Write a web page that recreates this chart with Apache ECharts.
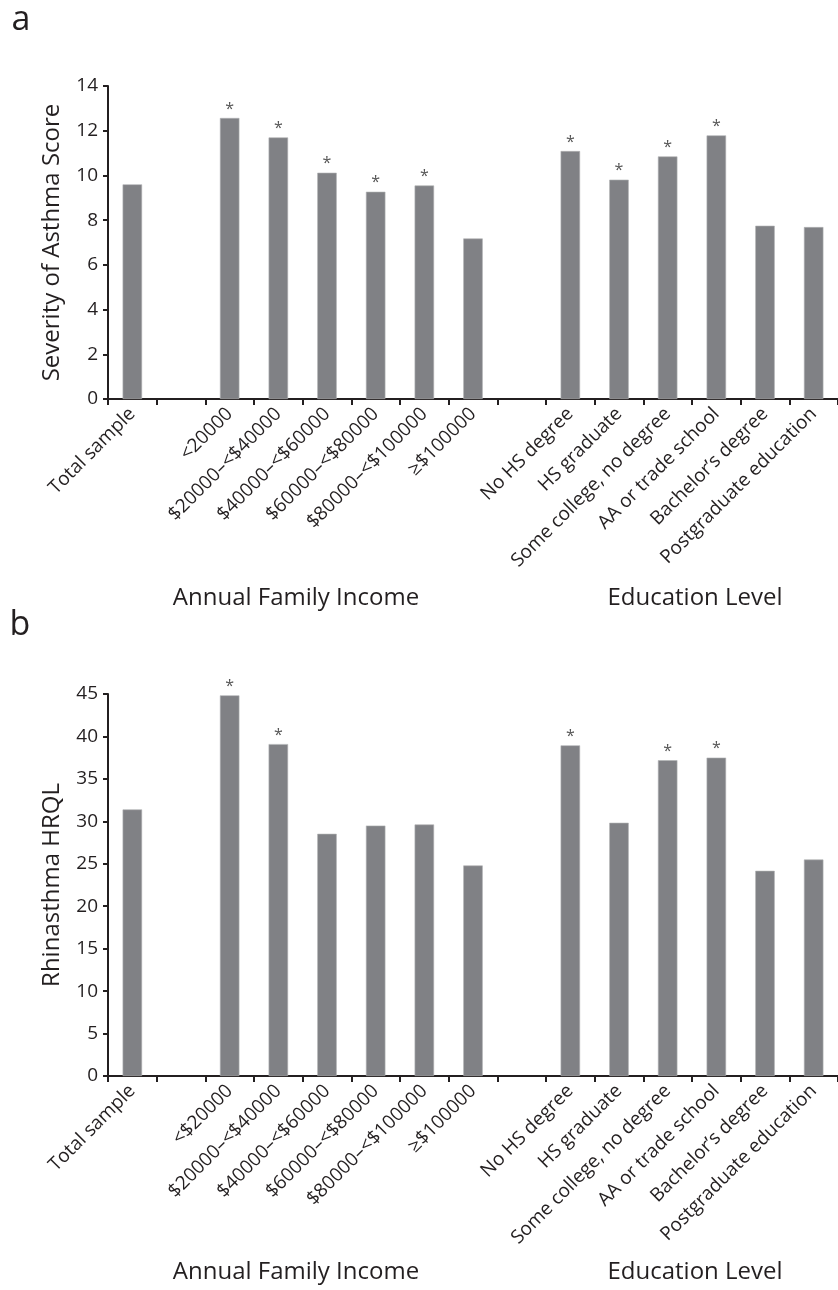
<!DOCTYPE html>
<html>
<head>
<meta charset="utf-8">
<script src="https://cdn.jsdelivr.net/npm/echarts@6/dist/echarts.min.js"></script>
<style>html,body{margin:0;padding:0;background:#fff}#c{width:838px;height:1290px}</style>
</head>
<body>
<div id="c"></div>
<script>
// ---- data ----
var categoriesA = ['Total sample', '', '<20000', '$20000\u2013<$40000', '$40000\u2013<$60000', '$60000\u2013<$80000', '$80000\u2013<$100000', '\u2265$100000', '', 'No HS degree', 'HS graduate', 'Some college, no degree', 'AA or trade school', 'Bachelor\u2019s degree', 'Postgraduate education'];
var categoriesB = ['Total sample', '', '<$20000', '$20000\u2013<$40000', '$40000\u2013<$60000', '$60000\u2013<$80000', '$80000\u2013<$100000', '\u2265$100000', '', 'No HS degree', 'HS graduate', 'Some college, no degree', 'AA or trade school', 'Bachelor\u2019s degree', 'Postgraduate education'];
var valuesA = [9.6, '-', 12.57, 11.7, 10.12, 9.27, 9.55, 7.18, '-', 11.09, 9.81, 10.85, 11.79, 7.75, 7.69];
var valuesB = [31.4, '-', 44.84, 39.1, 28.53, 29.5, 29.63, 24.8, '-', 38.95, 29.83, 37.2, 37.5, 24.17, 25.5];
var starsA = [0, 0, 1, 1, 1, 1, 1, 0, 0, 1, 1, 1, 1, 0, 0];
var starsB = [0, 0, 1, 1, 0, 0, 0, 0, 0, 1, 0, 1, 1, 0, 0];
var yAxisA = {name: 'Severity of Asthma Score', min: 0, max: 14, interval: 2};
var yAxisB = {name: 'Rhinasthma HRQL', min: 0, max: 45, interval: 5};
var groupLabels = ['Annual Family Income', 'Education Level'];
var panelLetters = ['a', 'b'];

// ---- styles ----
var FONT = '"Open Sans", "Noto Sans", sans-serif';
var INK = '#231f20';
var BAR = '#808185';

function xAxisCfg(cats, gi) {
  return {
    type: 'category', gridIndex: gi, data: cats,
    axisLine: {lineStyle: {color: INK, width: 2}},
    axisTick: {show: true, length: 6, lineStyle: {color: INK, width: 2}},
    axisLabel: {rotate: 45, interval: 0, margin: 12, fontFamily: FONT, fontSize: 19, color: INK}
  };
}
function yAxisCfg(ax, gi) {
  return {
    type: 'value', gridIndex: gi, min: ax.min, max: ax.max, interval: ax.interval,
    name: ax.name, nameLocation: 'middle', nameGap: 44,
    nameTextStyle: {fontFamily: FONT, fontSize: 24, color: INK},
    splitLine: {show: false},
    axisLine: {show: true, lineStyle: {color: INK, width: 2}},
    axisTick: {show: true, length: 5, lineStyle: {color: INK, width: 2}},
    axisLabel: {margin: 10, fontFamily: FONT, fontSize: 19, color: INK}
  };
}
function seriesCfg(vals, stars, gi) {
  return {
    type: 'bar', xAxisIndex: gi, yAxisIndex: gi, data: vals, barWidth: '40%',
    itemStyle: {color: BAR, borderColor: '#b0b1b4', borderWidth: 0.6},
    label: {
      show: true, position: 'top', distance: 1, fontFamily: FONT, fontSize: 16, color: '#555',
      formatter: function (p) { return stars[p.dataIndex] ? '*' : ''; }
    },
    silent: true, animation: false
  };
}
function txt(t, x, y, size) {
  return {type: 'text', x: x, y: y, style: {text: t, fontFamily: FONT, fontSize: size, fill: INK, textAlign: 'center', textVerticalAlign: 'middle'}};
}

var chart = echarts.init(document.getElementById('c'), null, {renderer: 'canvas'});
chart.setOption({
  backgroundColor: '#fff',
  animation: false,
  grid: [
    {left: 108, right: -6, top: 86, height: 313},
    {left: 108, right: -6, top: 694, height: 382}
  ],
  xAxis: [xAxisCfg(categoriesA, 0), xAxisCfg(categoriesB, 1)],
  yAxis: [yAxisCfg(yAxisA, 0), yAxisCfg(yAxisB, 1)],
  series: [seriesCfg(valuesA, starsA, 0), seriesCfg(valuesB, starsB, 1)],
  graphic: [
    txt(panelLetters[0], 21, 20, 34),
    txt(panelLetters[1], 20, 625, 34),
    txt(groupLabels[0], 296, 598, 24),
    txt(groupLabels[1], 695, 598, 24),
    txt(groupLabels[0], 296, 1272, 24),
    txt(groupLabels[1], 695, 1272, 24)
  ]
});
</script>
</body>
</html>
